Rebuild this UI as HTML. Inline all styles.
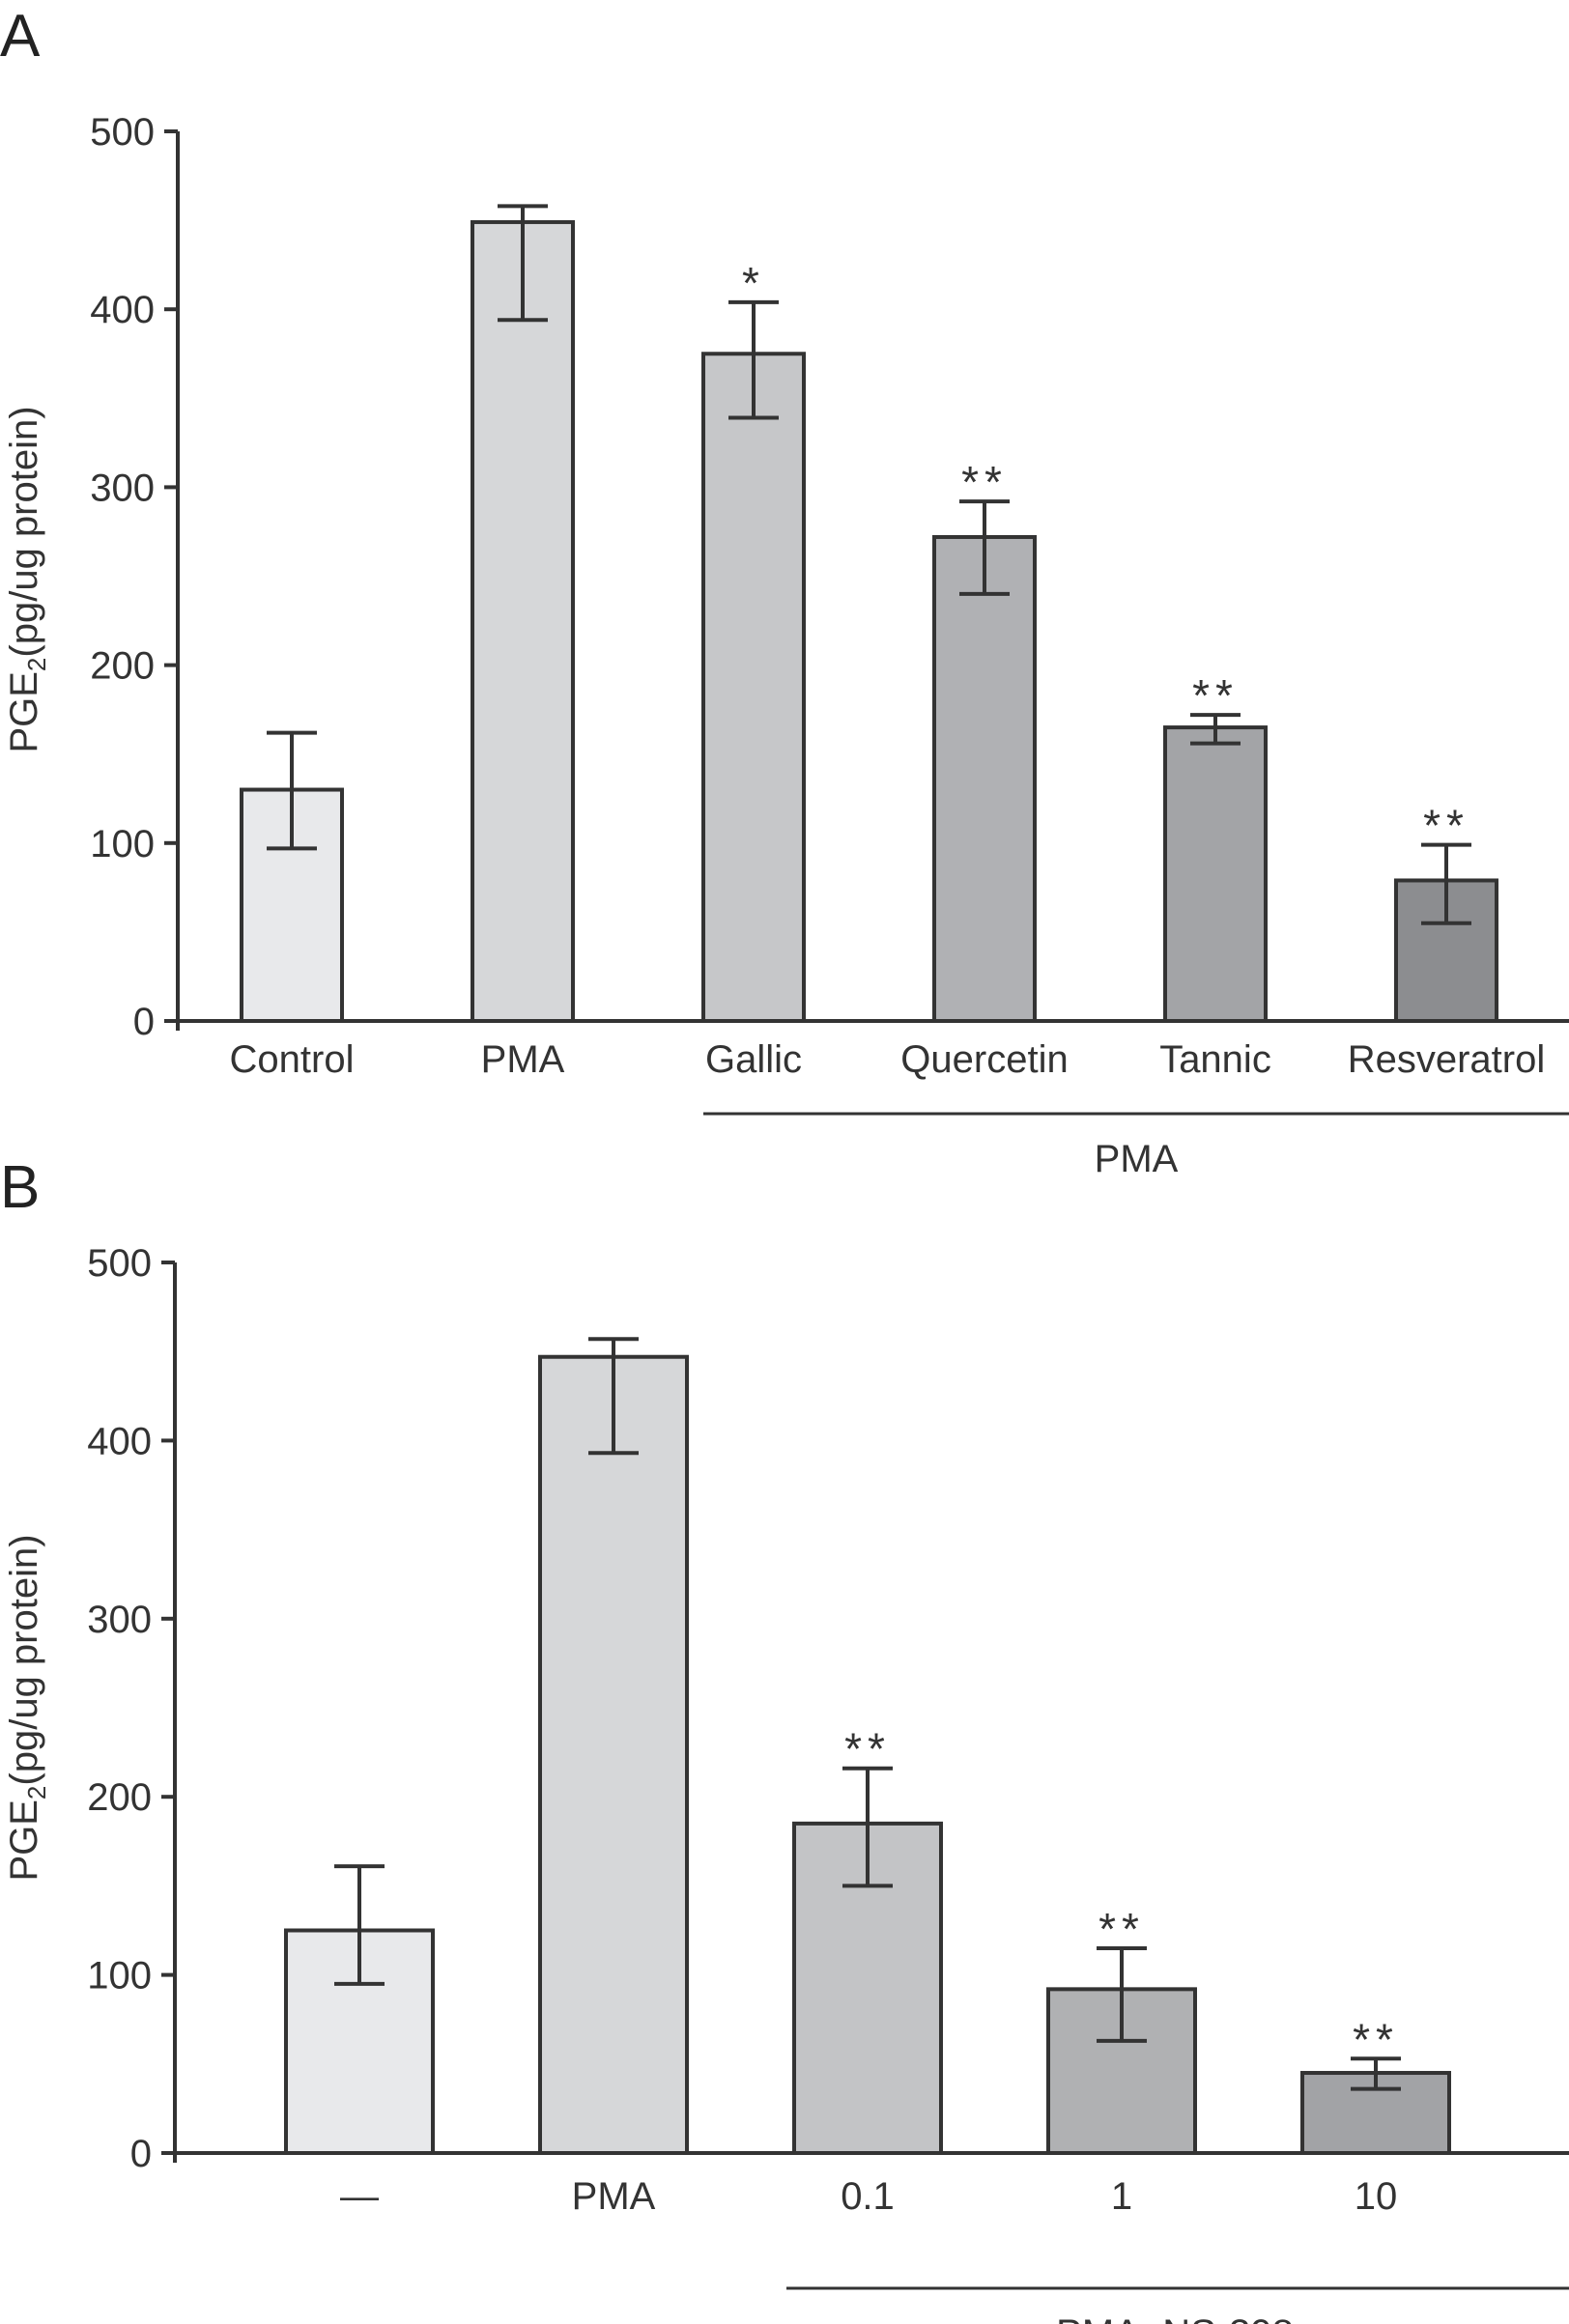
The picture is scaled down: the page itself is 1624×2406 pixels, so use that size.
<!DOCTYPE html>
<html><head><meta charset="utf-8"><style>
html,body{margin:0;padding:0;background:#fff;}
svg{display:block;font-family:"Liberation Sans",Arial,sans-serif;}
</style></head><body>
<svg id="chart" width="1624" height="2406" viewBox="0 0 1624 2406" xmlns="http://www.w3.org/2000/svg">
<text x="0" y="58" font-size="62" fill="#222">A</text>
<text x="0" y="1250" font-size="62" fill="#222">B</text>
<text transform="translate(38,600) rotate(-90)" text-anchor="middle" font-size="40" fill="#333">PGE<tspan font-size="26" dy="9">2</tspan><tspan dy="-9">(pg/ug protein)</tspan></text>
<text transform="translate(38,1768) rotate(-90)" text-anchor="middle" font-size="40" fill="#333">PGE<tspan font-size="26" dy="9">2</tspan><tspan dy="-9">(pg/ug protein)</tspan></text>
</svg>
<script>
const catsA = ["Control","PMA","Gallic","Quercetin","Tannic","Resveratrol"];
const valsA = [130,449,375,272,165,79];
const lowA = [97,394,339,240,156,55];
const highA = [162,458,404,292,172,99];
const starsA = ["","","*","**","**","**"];
const catsB = ["—","PMA","0.1","1","10"];
const valsB = [125,447,185,92,45];
const lowB = [95,393,150,63,36];
const highB = [161,457,216,115,53];
const starsB = ["","","**","**","**"];
const ticks = [0,100,200,300,400,500];

const NS="http://www.w3.org/2000/svg";
const svg=document.getElementById('chart');
function mk(tag,attrs,parent){const e=document.createElementNS(NS,tag);for(const k in attrs)e.setAttribute(k,attrs[k]);(parent||svg).appendChild(e);return e;}

function panel(p){
  const g=mk('g',{});
  
  
  const y=v=>p.y0-(v/500)*(p.y0-p.y500);
  const col=(i)=>p.first+i*p.step;
  const ya=mk('line',{x1:p.ax,y1:p.y500,x2:p.ax,y2:p.y0+10,stroke:'#333','stroke-width':4},g);
  
  
  const xa=mk('line',{x1:p.ax,y1:p.y0,x2:1624,y2:p.y0,stroke:'#333','stroke-width':4},g);
  
  
  ticks.forEach(t=>{
    mk('line',{x1:p.ax-14,y1:y(t),x2:p.ax,y2:y(t),stroke:'#333','stroke-width':4},g);
    const tl=mk('text',{x:p.ax-24,y:y(t)+14,'text-anchor':'end','font-size':40,fill:'#333'},g);
    tl.textContent=t;
    
    
  });
  p.cats.forEach((c,i)=>{
    const cx=col(i), w=p.w;
    const r=mk('rect',{x:cx-w/2,y:y(p.vals[i]),width:w,height:p.y0-y(p.vals[i]),fill:p.fills[i],stroke:'#333','stroke-width':4},g);
    
    
    const eb=mk('path',{d:`M${cx-26},${y(p.high[i])}H${cx+26}M${cx},${y(p.high[i])}V${y(p.low[i])}M${cx-26},${y(p.low[i])}H${cx+26}`,stroke:'#333','stroke-width':4,fill:'none'},g);
    
    
    if(p.stars[i]){
      const s=mk('text',{x:cx,y:y(p.high[i])-4,'text-anchor':'middle','font-size':46,fill:'#333','letter-spacing':6},g);
      s.textContent=p.stars[i];
      
      
    }
    const l=mk('text',{x:cx,y:p.labelY,'text-anchor':'middle','font-size':40,fill:'#333'},g);
    l.textContent=c;
    
    
  });
  const br=mk('line',{x1:p.brX,y1:p.brY,x2:1624,y2:p.brY,stroke:'#333','stroke-width':3},g);
  
  
  const bt=mk('text',{x:p.brTextX,y:p.brY+60,'text-anchor':'middle','font-size':40,fill:'#333'},g);
  bt.textContent=p.brText;
  
  
}
panel({name:'panel-a',cats:catsA,vals:valsA,low:lowA,high:highA,stars:starsA,
  fills:['#e8e9eb','#d6d7d9','#c6c7c9','#b0b1b4','#a3a4a7','#8c8d90'],
  ax:184,y0:1057,y500:136,first:302,step:239,w:104,labelY:1110,
  brX:728,brY:1153,brText:'PMA',brTextX:1176});
panel({name:'panel-b',cats:catsB,vals:valsB,low:lowB,high:highB,stars:starsB,
  fills:['#e8e9eb','#d6d7d9','#c3c4c6','#b0b1b3','#a2a3a6'],
  ax:181,y0:2229,y500:1307,first:372,step:263,w:152,labelY:2287,
  brX:814,brY:2369,brText:'PMA+NS-398',brTextX:1216});
</script>
</body></html>
